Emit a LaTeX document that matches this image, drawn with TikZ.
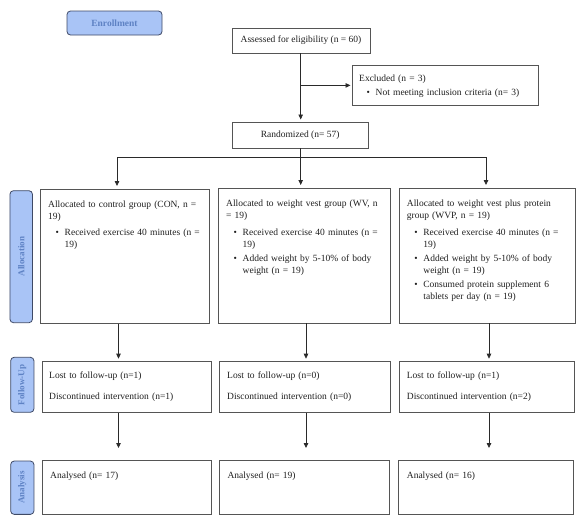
\documentclass[tikz,border=0pt]{standalone}
\usepackage{fontspec}
\setmainfont{Liberation Serif}
\usetikzlibrary{arrows.meta,calc}
\definecolor{labfill}{HTML}{A9C4F6}
\definecolor{labdraw}{HTML}{3F4A66}
\definecolor{labtext}{HTML}{5E82C4}
\definecolor{boxdraw}{HTML}{555555}
\definecolor{linecol}{HTML}{2A2A2A}
\newcommand{\bitem}[2][4.7pt]{\par\vspace{#1}\noindent\hspace*{7.5pt}\makebox[9pt][l]{\textbullet}\parbox[t]{150pt}{\raggedright #2}}
\tikzset{
  box/.style={draw=boxdraw, line width=0.8pt, inner sep=0pt, anchor=north west},
  ctxt/.style={inner sep=0pt, text=black!88, font=\fontsize{9.5}{12}\selectfont},
  txt/.style={ctxt, anchor=north west, text width=170pt, align=left, execute at begin node={\parindent=0pt}},
  lab/.style={draw=labdraw, fill=labfill, line width=0.8pt, rounded corners=3.5pt, inner sep=0pt, text=labtext, font=\fontsize{9}{10}\selectfont\bfseries},
  arr/.style={draw=linecol, line width=0.8pt, -{Triangle[width=4.5pt,length=5pt]}},
  ln/.style={draw=linecol, line width=0.8pt},
}
\begin{document}
\begin{tikzpicture}[x=1pt,y=-1pt]
\useasboundingbox (0,0) rectangle (582,523);
% side labels
\node[lab, minimum width=95pt, minimum height=24pt, font=\fontsize{9.5}{10}\selectfont\bfseries] (en) at (114.5,23) {Enrollment};
\node[lab, rotate=90, minimum width=132pt, minimum height=22.5pt] (lalloc) at (21.2,256.7) {Allocation};
\node[lab, rotate=90, minimum width=55pt, minimum height=23.3pt] (lfu) at (22.3,384.8) {Follow-Up};
\node[lab, rotate=90, minimum width=53.3pt, minimum height=23.3pt] (lan) at (22.3,487.7) {Analysis};
% enrollment boxes
\node[box, minimum width=138pt, minimum height=25pt, anchor=center] (a) at (301,40.5) {};
\node[ctxt] (atxt) at (a.center) {Assessed for eligibility (n = 60)};
\node[box, minimum width=186pt, minimum height=40pt] (ex) at (352,65) {};
\node[txt] (extxt) at (359,74.5) {Excluded (n = 3)\bitem[2pt]{Not meeting inclusion criteria (n= 3)}};
\node[box, minimum width=135.5pt, minimum height=26pt] (r) at (232,121.5) {};
\node[ctxt] (rtxt) at (r.center) {Randomized (n= 57)};
% allocation boxes
\node[box, minimum width=168.5pt, minimum height=134pt] (con) at (40,189) {};
\node[txt] (context) at (48,200.4) {Allocated to control group (CON, n =\newline 19)\bitem{Received exercise 40 minutes (n =\newline 19)}};
\node[box, minimum width=172pt, minimum height=134.5pt] (wv) at (218,188) {};
\node[txt] (wvtext) at (226,199.8) {Allocated to weight vest group (WV, n\newline = 19)\bitem{Received exercise 40 minutes (n =\newline 19)}\bitem{Added weight by 5-10\% of body\newline weight (n = 19)}};
\node[box, minimum width=176pt, minimum height=134.5pt] (wvp) at (399,188) {};
\node[txt] (wvptext) at (406.7,199.6) {Allocated to weight vest plus protein\newline group (WVP, n = 19)\bitem{Received exercise 40 minutes (n =\newline 19)}\bitem{Added weight by 5-10\% of body\newline weight (n = 19)}\bitem{Consumed protein supplement 6\newline tablets per day (n = 19)}};
% follow-up boxes
\node[box, minimum width=169pt, minimum height=51.7pt] (fu1) at (41.7,360.7) {};
\node[txt] (fu1t) at (49,371.6) {Lost to follow-up (n=1)\par\vspace{9pt}Discontinued intervention (n=1)};
\node[box, minimum width=170.7pt, minimum height=51.7pt] (fu2) at (219.3,360.7) {};
\node[txt] (fu2t) at (227,371.6) {Lost to follow-up (n=0)\par\vspace{9pt}Discontinued intervention (n=0)};
\node[box, minimum width=175pt, minimum height=51.7pt] (fu3) at (399,360.7) {};
\node[txt] (fu3t) at (406.7,371.6) {Lost to follow-up (n=1)\par\vspace{9pt}Discontinued intervention (n=2)};
% analysis boxes
\node[box, minimum width=168.4pt, minimum height=54.3pt] (an1) at (42.3,460) {};
\node[txt] (an1t) at (50,471.4) {Analysed (n= 17)};
\node[box, minimum width=170pt, minimum height=54.3pt] (an2) at (219.3,460) {};
\node[txt] (an2t) at (227.3,471.4) {Analysed (n= 19)};
\node[box, minimum width=175pt, minimum height=54.3pt] (an3) at (398.3,460) {};
\node[txt] (an3t) at (406.7,471.4) {Analysed (n= 16)};
% connectors
\coordinate (h) at (0,157);
\coordinate (k1) at (117,0);
\coordinate (k2) at (300.7,0);
\coordinate (k3) at (486,0);
\coordinate (m1) at (118.5,0);
\coordinate (m2) at (306,0);
\coordinate (m3) at (489,0);
\draw[arr, shorten >=2pt] (k2 |- a.south) -- (k2 |- r.north);
\draw[arr, shorten >=1.5pt] (k2 |- ex.west) -- (ex.west);
\draw[ln] (k2 |- r.south) -- (k2 |- h);
\draw[arr, shorten >=3pt] (k2 |- h) -| (k1 |- con.north);
\draw[arr, shorten >=3pt] (k2 |- h) -- (k2 |- wv.north);
\draw[arr, shorten >=3pt] (k2 |- h) -| (k3 |- wvp.north);
\draw[arr, shorten >=2pt] (m1 |- con.south) -- (m1 |- fu1.north);
\draw[arr, shorten >=2pt] (m2 |- wv.south) -- (m2 |- fu2.north);
\draw[arr, shorten >=2pt] (m3 |- wvp.south) -- (m3 |- fu3.north);
\draw[arr, shorten >=12pt] (m1 |- fu1.south) -- (m1 |- an1.north);
\draw[arr, shorten >=12pt] (m2 |- fu2.south) -- (m2 |- an2.north);
\draw[arr, shorten >=12pt] (m3 |- fu3.south) -- (m3 |- an3.north);
\end{tikzpicture}
\end{document}
